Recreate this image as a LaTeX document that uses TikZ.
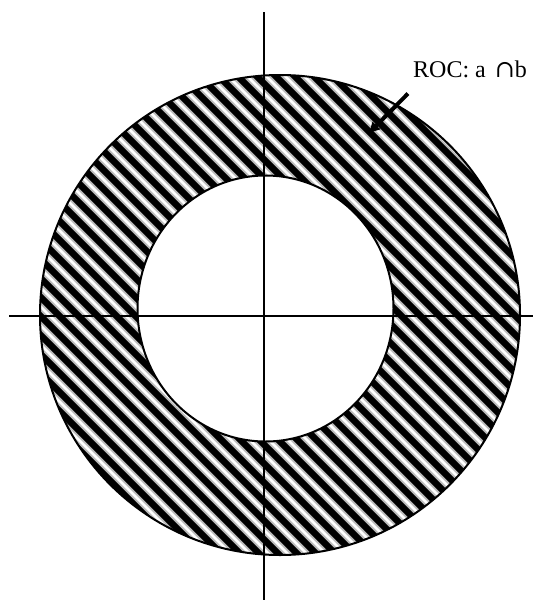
\documentclass[tikz,border=0pt]{standalone}
\usepackage{fontspec}
\setmainfont{Liberation Serif}
\newfontfamily\capfont{DejaVu Serif}
\usetikzlibrary{arrows.meta,calc}

\begin{document}
\begin{tikzpicture}[
  x=1pt,y=-1pt,
  font=\fontsize{24}{28}\selectfont,
  axis/.style={line width=2pt},
  ring/.style={line width=2pt},
  stripe/.style={line width=6.5pt,gray!55},
  gap/.style={line width=2.5pt,white},
  arr/.style={-{Latex[length=12pt,width=12pt]},line width=4pt}
]
  \useasboundingbox (0,0) rectangle (533,600);

  % hatched region of convergence
  \begin{scope}[even odd rule]
    \clip (280,315) circle (240pt) (265.5,308.5) ellipse [x radius=128pt,y radius=133pt];
    \fill (0,0) rectangle (533,600);
    \foreach \c in {-532,-513,...,460}
      \draw[stripe] (\c+30,30) -- (\c+570,570);
    \foreach \c in {-532,-513,...,460}
      \draw[gap] (\c+30,30) -- (\c+570,570);
  \end{scope}
  \draw[ring] (280,315) circle (240pt);
  \draw[ring] (265.5,308.5) ellipse [x radius=128pt,y radius=133pt];

  % axes
  \draw[axis] (264,12) -- (264,600);
  \draw[axis] (9,316) -- (533,316);

  \node[anchor=base west,inner sep=0] (roc) at (413,77) {ROC: a\hspace{3pt} {\capfont ∩}b};
  \coordinate (tip) at (368,134);
  \draw[arr] ($(roc.south west)+(-5,16)$) -- (tip);
\end{tikzpicture}
\end{document}
